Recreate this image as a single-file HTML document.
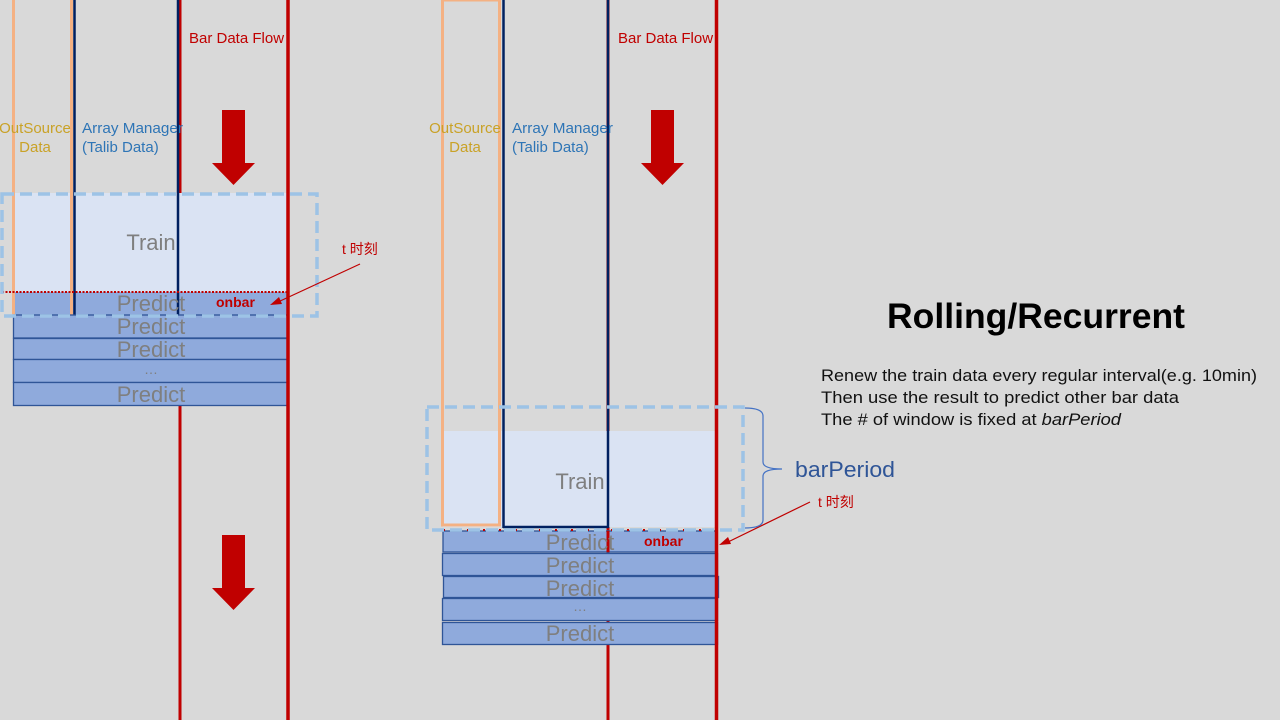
<!DOCTYPE html>
<html><head><meta charset="utf-8"><style>
html,body{margin:0;padding:0;background:#d9d9d9;}
svg{display:block}
text{font-family:"Liberation Sans","Noto Sans CJK SC",sans-serif;}
</style></head><body>
<svg width="1280" height="720" viewBox="0 0 1280 720" xmlns="http://www.w3.org/2000/svg">
<rect width="1280" height="720" fill="#d9d9d9"/>
<line x1="180" y1="0" x2="180" y2="720" stroke="#c00000" stroke-width="3"/>
<rect x="13" y="193" width="275" height="99" fill="#dae3f3"/>
<rect x="13" y="292" width="275" height="23" fill="#8faadc"/>
<line x1="13.5" y1="0" x2="13.5" y2="315" stroke="#f4b183" stroke-width="3"/>
<line x1="71.5" y1="0" x2="71.5" y2="315" stroke="#f4b183" stroke-width="3"/>
<line x1="74.5" y1="0" x2="74.5" y2="315" stroke="#002060" stroke-width="2.5"/>
<line x1="178" y1="0" x2="178" y2="315" stroke="#002060" stroke-width="2.5"/>
<g fill="#8faadc" stroke="#2f5597" stroke-width="1.3">
<rect x="13.5" y="315" width="275" height="23"/>
<rect x="13.5" y="338.5" width="275" height="21"/>
<rect x="13.5" y="359.5" width="275" height="23"/>
<rect x="13.5" y="382.5" width="275" height="23"/>
</g>
<line x1="288" y1="0" x2="288" y2="720" stroke="#c00000" stroke-width="3.5"/>
<line x1="2" y1="292" x2="287" y2="292" stroke="#c00000" stroke-width="2" stroke-dasharray="2,1.5"/>
<rect x="2" y="194" width="315" height="122" fill="none" stroke="#9dc3e6" stroke-width="3.5" stroke-dasharray="12,6"/>
<g fill="#7f7f7f" font-size="22" text-anchor="middle">
<text x="151" y="250">Train</text>
<text x="151" y="311">Predict</text>
<text x="151" y="334">Predict</text>
<text x="151" y="357">Predict</text>
<text x="151" y="374" font-size="14">…</text>
<text x="151" y="402">Predict</text>
</g>
<text x="216" y="307" font-size="14" font-weight="bold" fill="#c00000">onbar</text>
<text x="342" y="254" font-size="14" fill="#c00000">t 时刻</text>
<line x1="360" y1="264" x2="278" y2="302" stroke="#c00000" stroke-width="1.2"/>
<polygon points="270,305 279,297 282,304" fill="#c00000"/>
<text x="189" y="43" font-size="15" fill="#c00000">Bar Data Flow</text>
<text x="35" y="133" font-size="15" fill="#c9a227" text-anchor="middle">OutSource</text>
<text x="35" y="152" font-size="15" fill="#c9a227" text-anchor="middle">Data</text>
<text x="82" y="133" font-size="15" fill="#2e75b6" textLength="101" lengthAdjust="spacingAndGlyphs">Array Manager</text>
<text x="82" y="152" font-size="15" fill="#2e75b6">(Talib Data)</text>
<polygon points="222,110 245,110 245,163 255,163 233.5,185 212,163 222,163" fill="#c00000"/>
<polygon points="222,535 245,535 245,588 255,588 233.5,610 212,588 222,588" fill="#c00000"/>

<line x1="608" y1="0" x2="608" y2="720" stroke="#c00000" stroke-width="3"/>
<rect x="443" y="431" width="273" height="96" fill="#dae3f3"/>
<rect x="442.5" y="0" width="57" height="525" fill="none" stroke="#f4b183" stroke-width="3"/>
<line x1="503.5" y1="0" x2="503.5" y2="528" stroke="#002060" stroke-width="2.5"/>
<line x1="503" y1="527" x2="608" y2="527" stroke="#002060" stroke-width="2.5"/>
<line x1="608" y1="0" x2="608" y2="528" stroke="#002060" stroke-width="2.5"/>
<rect x="443" y="531" width="273" height="21" fill="#8faadc" stroke="#2f5597" stroke-width="1.3"/>
<line x1="608" y1="531" x2="608" y2="552" stroke="#c00000" stroke-width="3"/>
<g fill="#8faadc" stroke="#2f5597" stroke-width="1.3">
<rect x="442.5" y="553.5" width="275" height="22"/>
<rect x="443.5" y="576.5" width="275" height="21"/>
<rect x="442.5" y="598.5" width="275" height="22"/>
<rect x="442.5" y="622.5" width="275" height="22"/>
</g>
<line x1="716.5" y1="0" x2="716.5" y2="720" stroke="#c00000" stroke-width="3.5"/>
<line x1="443" y1="530" x2="716" y2="530" stroke="#c00000" stroke-width="2" stroke-dasharray="2,6"/>
<rect x="427" y="407" width="316" height="123" fill="none" stroke="#9dc3e6" stroke-width="3.5" stroke-dasharray="12,6"/>
<g fill="#7f7f7f" font-size="22" text-anchor="middle">
<text x="580" y="489">Train</text>
<text x="580" y="550">Predict</text>
<text x="580" y="573">Predict</text>
<text x="580" y="596">Predict</text>
<text x="580" y="611" font-size="14">…</text>
<text x="580" y="641">Predict</text>
</g>
<text x="644" y="546" font-size="14" font-weight="bold" fill="#c00000">onbar</text>
<text x="818" y="507" font-size="14" fill="#c00000">t 时刻</text>
<line x1="810" y1="502" x2="728" y2="542" stroke="#c00000" stroke-width="1.2"/>
<polygon points="719,545 728,537 731,544" fill="#c00000"/>
<path d="M745,408 Q763,408 763,416 L763,462 Q763,469 782,469 Q763,469 763,476 L763,520 Q763,528 745,528" fill="none" stroke="#4472c4" stroke-width="1.2"/>
<text x="795" y="477" font-size="22" fill="#2f5597" textLength="100" lengthAdjust="spacingAndGlyphs">barPeriod</text>
<text x="618" y="43" font-size="15" fill="#c00000">Bar Data Flow</text>
<text x="465" y="133" font-size="15" fill="#c9a227" text-anchor="middle">OutSource</text>
<text x="465" y="152" font-size="15" fill="#c9a227" text-anchor="middle">Data</text>
<text x="512" y="133" font-size="15" fill="#2e75b6" textLength="101" lengthAdjust="spacingAndGlyphs">Array Manager</text>
<text x="512" y="152" font-size="15" fill="#2e75b6">(Talib Data)</text>
<polygon points="651,110 674,110 674,163 684,163 662.5,185 641,163 651,163" fill="#c00000"/>

<text x="1036" y="328" font-size="35" font-weight="bold" fill="#000" text-anchor="middle" textLength="298" lengthAdjust="spacingAndGlyphs">Rolling/Recurrent</text>
<g font-size="17" fill="#111">
<text x="821" y="381" textLength="436" lengthAdjust="spacingAndGlyphs">Renew the train data every regular interval(e.g. 10min)</text>
<text x="821" y="403" textLength="358" lengthAdjust="spacingAndGlyphs">Then use the result to predict other bar data</text>
<text x="821" y="425" textLength="300" lengthAdjust="spacingAndGlyphs">The # of window is fixed at <tspan font-style="italic">barPeriod</tspan></text>
</g>
</svg>
</body></html>
